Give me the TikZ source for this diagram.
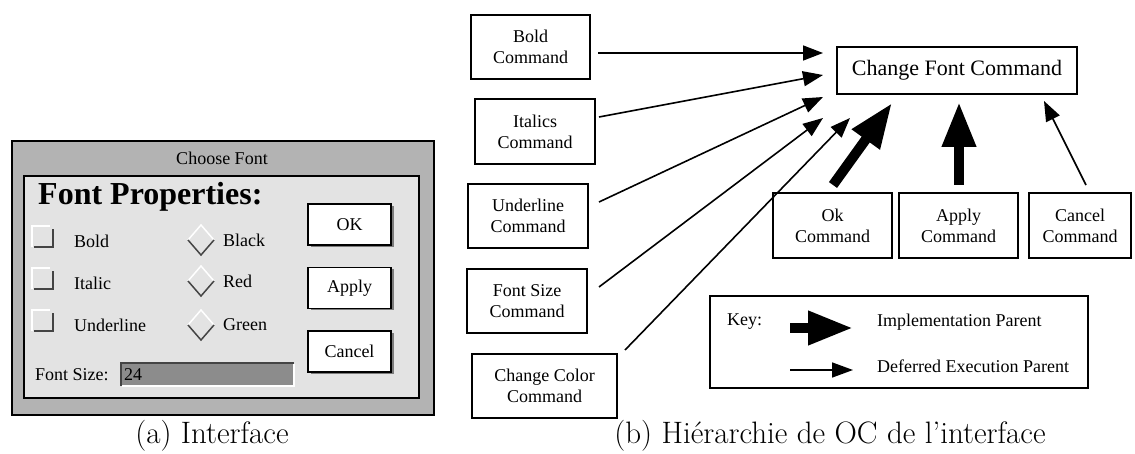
\documentclass[tikz,border=0pt]{standalone}
\usepackage{fontspec}
\newfontfamily\tms{Liberation Serif}
\usetikzlibrary{arrows.meta,calc}
\definecolor{framegray}{HTML}{B3B3B3}
\definecolor{panelgray}{HTML}{E3E3E3}
\definecolor{fieldgray}{HTML}{8C8C8C}
\definecolor{bevel}{HTML}{444444}
\tikzset{
  cmdbox/.style={draw, line width=1.8pt, fill=white, align=center, inner sep=0pt,
    font=\tms\fontsize{18}{21}\selectfont},
  lbl/.style={font=\tms\fontsize{18}{21}\selectfont, inner sep=0pt, anchor=west},
  thinarrow/.style={line width=1.6pt, -{Triangle[length=20pt,width=15pt]}},
  thickarrow/.style={line width=10pt, -{Triangle[length=45pt,width=32pt]}},
  btn/.style={draw, line width=1.6pt, fill=white, minimum width=83pt, minimum height=41pt,
    inner sep=0pt, font=\tms\fontsize{18}{21}\selectfont},
  btnshadow/.style={fill=bevel!70},
  capt/.style={font=\fontsize{31}{36}\selectfont, inner sep=0pt},
  hilite/.style={white, line width=1.5pt},
  shade/.style={bevel, line width=1.8pt},
}
\begin{document}
\begin{tikzpicture}[x=1pt,y=-1pt]
\useasboundingbox (0,0) rectangle (1135,454);

% ---------------- (a) dialog ----------------
\draw[line width=1.6pt, fill=framegray] (12,141) rectangle (434,415);
\node[lbl, anchor=center] (title) at (222,158) {Choose Font};
\draw[line width=1.8pt, fill=panelgray] (24,176) rectangle (419,398);
\node[font=\tms\bfseries\fontsize{32}{36}\selectfont, inner sep=0pt, anchor=base west] (props) at (38,205) {Font Properties:};

% check boxes
\foreach \y/\n/\t in {226/cb1/Bold, 268/cb2/Italic, 310/cb3/Underline}{
  \draw[hilite] (32,\y+21) -- (32,\y) -- (50,\y);
  \draw[shade] (34,\y+21) -- (53,\y+21) -- (53,\y+3);
  \node[lbl] (\n) at (74,\y+15) {\t};
}
% radio diamonds
\foreach \y/\n/\t in {240/rb1/Black, 281/rb2/Red, 325/rb3/Green}{
  \draw[hilite] (188,\y) -- (201,\y-15) -- (214,\y);
  \draw[bevel, line width=1.5pt] (188,\y) -- (201,\y+15) -- (214,\y);
  \node[lbl] (\n) at (223,\y) {\t};
}
% font size field
\node[lbl] (fslabel) at (35,375) {Font Size:};
\fill[fieldgray] (121,363) rectangle (294,386);
\draw[bevel, line width=1.8pt] (121,386) -- (121,363) -- (294,363);
\draw[white, line width=1.5pt] (122,386) -- (294,386) -- (294,364);
\node[lbl] (fsval) at (124,375) {24};

% buttons
\foreach \y/\n/\t in {224.5/bok/OK, 288/bapply/Apply, 351.5/bcancel/Cancel}{
  \fill[btnshadow] (310.5,\y-18.5) rectangle (393.5,\y+22.5);
  \node[btn] (\n) at (349.5,\y) {\t};
}

% ---------------- (b) hierarchy ----------------
\node[cmdbox, minimum width=240pt, minimum height=47pt, font=\tms\fontsize{22}{26}\selectfont] (cfc) at (957,70.5) {Change Font Command};

\node[cmdbox, minimum width=119pt, minimum height=64pt] (bold) at (530.5,47) {Bold\\Command};
\node[cmdbox, minimum width=120pt, minimum height=65pt] (ital) at (535,131.5) {Italics\\Command};
\node[cmdbox, minimum width=120pt, minimum height=64pt] (under) at (528,216) {Underline\\Command};
\node[cmdbox, minimum width=120pt, minimum height=64pt] (fsize) at (527,301) {Font Size\\Command};
\node[cmdbox, minimum width=145pt, minimum height=64pt] (color) at (544.5,386) {Change Color\\Command};

\node[cmdbox, minimum width=119pt, minimum height=65pt] (okc) at (832.5,225.5) {Ok\\Command};
\node[cmdbox, minimum width=119pt, minimum height=65pt] (applyc) at (958.5,225.5) {Apply\\Command};
\node[cmdbox, minimum width=102pt, minimum height=65pt] (cancelc) at (1080,225.5) {Cancel\\Command};

% arrow end points
\coordinate (sBold) at (598,53);   \coordinate (tBold) at (823,53);
\coordinate (sItal) at (599,117);  \coordinate (tItal) at (823,75);
\coordinate (sUnd) at (599,202);   \coordinate (tUnd) at (823,97);
\coordinate (sFs) at (599,287);    \coordinate (tFs) at (823,118);
\coordinate (sCol) at (625,350);   \coordinate (tCol) at (850,118);
\coordinate (sOk) at (833,185);    \coordinate (tOk) at (892,103);
\coordinate (sAp) at (959,185);    \coordinate (tAp) at (959,102);
\coordinate (sCa) at (1086,185);   \coordinate (tCa) at (1044,101);

\draw[thinarrow] (sBold) -- (tBold);
\draw[thinarrow] (sItal) -- (tItal);
\draw[thinarrow] (sUnd) -- (tUnd);
\draw[thinarrow] (sFs) -- (tFs);
\draw[thinarrow] (sCol) -- (tCol);
\draw[thickarrow] (sOk) -- (tOk);
\draw[thickarrow] (sAp) -- (tAp);
\draw[thinarrow] (sCa) -- (tCa);

% key
\node[draw, line width=1.8pt, minimum width=378pt, minimum height=92pt, inner sep=0pt] (key) at (899,342) {};
\node[lbl] (keylbl) at (727,322) {Key:};
\coordinate (k1s) at (790,328); \coordinate (k1t) at (853,328);
\coordinate (k2s) at (790,370); \coordinate (k2t) at (853,370);
\draw[thickarrow] (k1s) -- (k1t);
\draw[line width=1.6pt, -{Triangle[length=21pt,width=15pt]}] (k2s) -- (k2t);
\node[lbl] (implbl) at (877,322) {Implementation Parent};
\node[lbl] (deflbl) at (877,366) {Deferred Execution Parent};

% captions
\node[capt] (capa) at (212,436) {(a) Interface};
\node[capt] (capb) at (830,436) {(b) Hiérarchie de OC de l'interface};
\end{tikzpicture}
\end{document}
